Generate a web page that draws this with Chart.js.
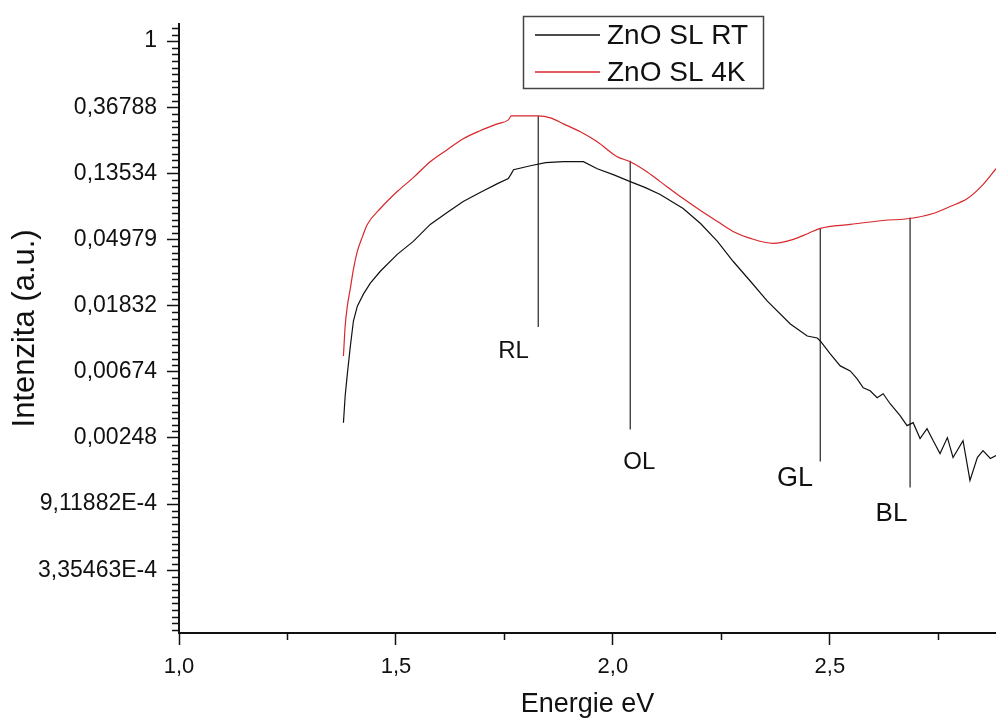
<!DOCTYPE html>
<html>
<head>
<meta charset="utf-8">
<script src="https://cdn.jsdelivr.net/npm/chart.js@4.4.0/dist/chart.umd.min.js"></script>
<style>
  html, body { margin: 0; padding: 0; background: #fff; }
  #wrap { width: 996px; height: 725px; }
</style>
</head>
<body>
<div id="wrap"><canvas id="plChart"></canvas></div>
<script>
// ZnO SL spectra (eV, a.u.)
const energyRT = [1.379, 1.383, 1.388, 1.395, 1.402, 1.411, 1.425, 1.441, 1.464, 1.503, 1.540, 1.579, 1.618, 1.655, 1.694, 1.734, 1.759, 1.766, 1.771, 1.810, 1.845, 1.886, 1.932, 1.964, 2.001, 2.040, 2.075, 2.109, 2.162, 2.202, 2.241, 2.277, 2.317, 2.356, 2.409, 2.448, 2.471, 2.478, 2.501, 2.524, 2.547, 2.563, 2.577, 2.593, 2.609, 2.623, 2.639, 2.662, 2.678, 2.692, 2.708, 2.724, 2.738, 2.754, 2.771, 2.784, 2.807, 2.823, 2.840, 2.853, 2.870, 2.883];
const intensityRT = [0.003126, 0.004696, 0.006539, 0.009974, 0.01453, 0.01821, 0.02182, 0.02574, 0.03084, 0.03984, 0.04847, 0.06259, 0.07502, 0.08847, 0.1014, 0.1160, 0.1252, 0.1349, 0.1433, 0.1521, 0.1593, 0.1617, 0.1617, 0.1454, 0.1329, 0.1196, 0.1092, 0.09835, 0.07964, 0.06352, 0.04847, 0.03587, 0.02652, 0.01963, 0.01389, 0.01159, 0.01125, 0.01075, 0.008835, 0.007373, 0.006840, 0.006066, 0.005295, 0.005062, 0.004553, 0.004839, 0.004161, 0.003472, 0.002988, 0.003126, 0.002457, 0.002857, 0.002384, 0.001960, 0.002494, 0.001846, 0.002384, 0.001305, 0.001846, 0.002050, 0.001818, 0.001902];

const energy4K = [1.379, 1.383, 1.388, 1.395, 1.402, 1.411, 1.423, 1.434, 1.464, 1.503, 1.540, 1.579, 1.618, 1.655, 1.694, 1.734, 1.759, 1.766, 1.828, 1.856, 1.886, 1.925, 1.964, 2.010, 2.040, 2.075, 2.109, 2.162, 2.202, 2.241, 2.277, 2.317, 2.370, 2.416, 2.450, 2.478, 2.547, 2.623, 2.685, 2.738, 2.777, 2.817, 2.853, 2.883];
const intensity4K = [0.008574, 0.01348, 0.01821, 0.02387, 0.03178, 0.04167, 0.05224, 0.06259, 0.07964, 0.1029, 0.1271, 0.1617, 0.1936, 0.2286, 0.2580, 0.2865, 0.3042, 0.3231, 0.3231, 0.3135, 0.2865, 0.2541, 0.2185, 0.1743, 0.1617, 0.1411, 0.1196, 0.09253, 0.07728, 0.06546, 0.05631, 0.05070, 0.04703, 0.04994, 0.05464, 0.05896, 0.06259, 0.06646, 0.06848, 0.07389, 0.08206, 0.09253, 0.1143, 0.1454];

// emission band markers
const bandNames = ['RL', 'OL', 'GL', 'BL'];
const bandEnergy = [1.828, 2.040, 2.478, 2.685];
const bandTop = [0.3231, 0.164, 0.05896, 0.06952];
const bandBottom = [0.01328, 0.002815, 0.001738, 0.001175];
const nameEnergy = [1.771, 2.061, 2.420, 2.642];
const nameIntensity = [0.009242, 0.001712, 0.001346, 0.0007935];

const xTickValues = [1.0, 1.5, 2.0, 2.5];
const xTickLabels = ['1,0', '1,5', '2,0', '2,5'];
const yTickValues = [1, 0.36788, 0.13534, 0.04979, 0.01832, 0.00674, 0.00248, 9.11882e-4, 3.35463e-4];
const yTickLabels = ['1', '0,36788', '0,13534', '0,04979', '0,01832', '0,00674', '0,00248', '9,11882E-4', '3,35463E-4'];

const FONT = '"Liberation Sans", Arial, sans-serif';
const INK = '#111';
const nameSizes = [24, 24, 27, 26];

Chart.defaults.font.family = FONT;
Chart.defaults.color = INK;

const toPoints = (xs, ys) => xs.map((x, i) => ({ x: x, y: ys[i] }));

const bandSets = bandNames.map((name, i) => ({
    label: name,
    data: [{ x: bandEnergy[i], y: bandTop[i] }, { x: bandEnergy[i], y: bandBottom[i] }],
    borderColor: '#333',
    borderWidth: 1.3,
    pointRadius: 0
}));

// minor ticks, band names and the boxed legend
const extras = {
    id: 'extras',
    afterDraw(chart) {
        const ctx = chart.ctx;
        const xs = chart.scales.x;
        const ys = chart.scales.y;
        const area = chart.chartArea;
        ctx.save();

        ctx.strokeStyle = INK;
        ctx.lineWidth = 1.5;
        ctx.beginPath();
        for (let k = -90; k <= 3; k++) {
            if (k % 10 === 0) continue;
            const v = Math.exp(k / 10);
            if (v < ys.min || v > ys.max) continue;
            const py = Math.round(ys.getPixelForValue(v)) + 0.5;
            ctx.moveTo(area.left - 7, py);
            ctx.lineTo(area.left, py);
        }
        [1.25, 1.75, 2.25, 2.75].forEach(v => {
            const px = Math.round(xs.getPixelForValue(v)) + 0.5;
            ctx.moveTo(px, area.bottom);
            ctx.lineTo(px, area.bottom + 7);
        });
        ctx.stroke();

        ctx.fillStyle = INK;
        ctx.textAlign = 'center';
        ctx.textBaseline = 'middle';
        bandNames.forEach((name, i) => {
            ctx.font = nameSizes[i] + 'px ' + FONT;
            ctx.fillText(name, xs.getPixelForValue(nameEnergy[i]), ys.getPixelForValue(nameIntensity[i]));
        });

        // legend box
        ctx.fillStyle = '#fff';
        ctx.fillRect(523, 16, 240, 72);
        ctx.strokeStyle = '#444';
        ctx.lineWidth = 1.5;
        ctx.strokeRect(523.5, 16.5, 240, 72);
        ctx.font = '28px ' + FONT;
        ctx.textAlign = 'left';
        chart.data.datasets.slice(0, 2).forEach((ds, i) => {
            const y = 35 + i * 37;
            ctx.strokeStyle = ds.borderColor;
            ctx.lineWidth = 1.3;
            ctx.beginPath();
            ctx.moveTo(535, y);
            ctx.lineTo(600, y);
            ctx.stroke();
            ctx.fillStyle = INK;
            ctx.fillText(ds.label, 607, y + 1);
        });
        ctx.restore();
    }
};

new Chart(document.getElementById('plChart'), {
    type: 'line',
    data: {
        datasets: [{
            label: 'ZnO SL RT',
            data: toPoints(energyRT, intensityRT),
            borderColor: '#111',
            borderWidth: 1.2,
            pointRadius: 0
        }, {
            label: 'ZnO SL 4K',
            data: toPoints(energy4K, intensity4K),
            borderColor: '#d8262b',
            borderWidth: 1.2,
            pointRadius: 0,
            cubicInterpolationMode: 'monotone'
        }].concat(bandSets)
    },
    options: {
        responsive: true,
        maintainAspectRatio: false,
        animation: false,
        layout: { padding: { top: 22, right: 0, left: 0, bottom: 0 } },
        plugins: {
            legend: { display: false },
            tooltip: { enabled: false }
        },
        scales: {
            x: {
                type: 'linear',
                min: 1.0,
                max: 2.883,
                afterBuildTicks: s => { s.ticks = xTickValues.map(v => ({ value: v })); },
                afterFit: s => { s.height = 92; },
                ticks: {
                    callback: (v, i) => xTickLabels[i],
                    font: { size: 22 },
                    color: INK,
                    padding: 9,
                    maxRotation: 0,
                    autoSkip: false
                },
                grid: { drawOnChartArea: false, tickLength: 12, tickWidth: 1.5, tickColor: INK },
                border: { display: true, color: INK, width: 2 },
                title: { display: true, text: 'Energie eV', font: { size: 27 }, color: INK }
            },
            y: {
                type: 'logarithmic',
                min: 1.3e-4,
                max: 1.3,
                afterBuildTicks: s => { s.ticks = yTickValues.map(v => ({ value: v })); },
                afterFit: s => { s.width = 179; },
                ticks: {
                    callback: (v, i) => yTickLabels[i],
                    font: { size: 23 },
                    color: INK,
                    padding: 10,
                    autoSkip: false
                },
                grid: { drawOnChartArea: false, tickLength: 12, tickWidth: 1.5, tickColor: INK },
                border: { display: true, color: INK, width: 2 },
                title: { display: true, text: 'Intenzita (a.u.)', font: { size: 31 }, color: INK, padding: { top: 7, bottom: 0 } }
            }
        }
    },
    plugins: [extras]
});
</script>
</body>
</html>
